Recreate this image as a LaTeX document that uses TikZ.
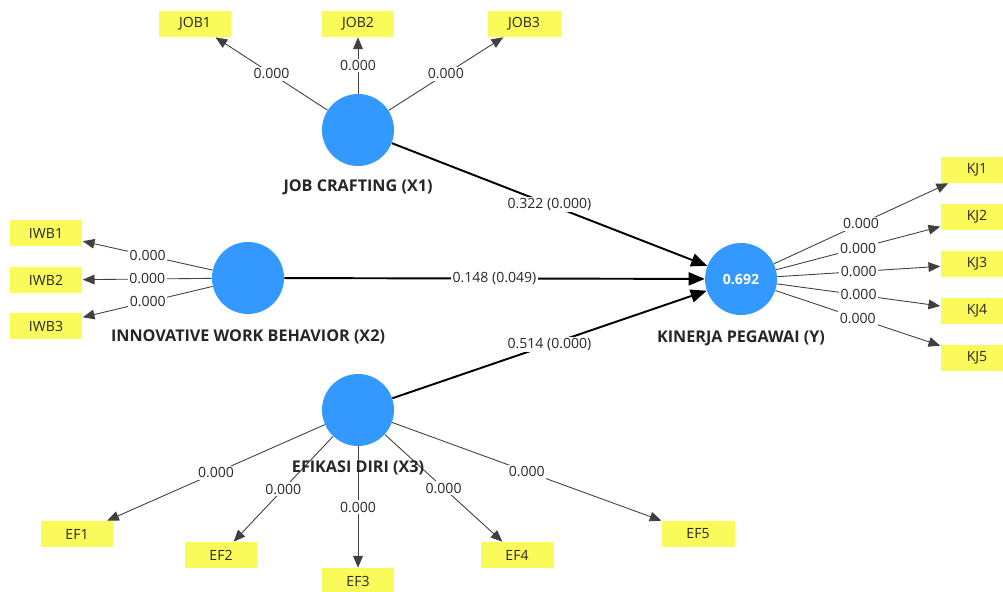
\documentclass[tikz,border=0pt]{standalone}
\usepackage{fontspec}
\setmainfont{Open Sans}
\usetikzlibrary{arrows}
\definecolor{lvblue}{RGB}{51,153,255}
\definecolor{mvyellow}{RGB}{250,250,90}
\definecolor{txtgray}{RGB}{40,40,40}
\tikzstyle{latent} = [circle, fill=lvblue, minimum size=1.44cm, inner sep=0pt, text=white, font=\bfseries\fontsize{8}{10}\selectfont]
\tikzstyle{indicator} = [rectangle, fill=mvyellow, minimum width=1.46cm, minimum height=0.52cm, inner sep=0pt, text=txtgray]
\tikzstyle{lvname} = [font=\bfseries\fontsize{9.2}{11}\selectfont, text=black!85]
\tikzstyle{loading} = [->, >=triangle 45, draw=black!75, line width=0.5pt]
\tikzstyle{structural} = [->, >=triangle 45, draw=black, line width=1.1pt]
\tikzstyle{coef} = [fill=white, inner sep=1pt, text=txtgray]

\begin{document}
\begin{tikzpicture}[x=0.02cm, y=-0.02cm, font=\fontsize{8}{10}\selectfont]
\clip (0,0) rectangle (1003,591);
\fill[white] (0,0) rectangle (1003,591);

% Placement of latent variables
\node (x1) [latent] at (358,130) {};
\node (x2) [latent] at (248,278) {};
\node (x3) [latent] at (358,410) {};
\node (y) [latent] at (741,279) {0.692};

% Placement of indicators
\node (job1) [indicator] at (195,24) {JOB1};
\node (job2) [indicator] at (358,24) {JOB2};
\node (job3) [indicator] at (524,24) {JOB3};

\node (iwb1) [indicator] at (46,233) {IWB1};
\node (iwb2) [indicator] at (46,280) {IWB2};
\node (iwb3) [indicator] at (46,326) {IWB3};

\node (kj1) [indicator] at (977,170) {KJ1};
\node (kj2) [indicator] at (977,217) {KJ2};
\node (kj3) [indicator] at (977,264) {KJ3};
\node (kj4) [indicator] at (977,311) {KJ4};
\node (kj5) [indicator] at (977,358) {KJ5};

\node (ef1) [indicator] at (77,534) {EF1};
\node (ef2) [indicator] at (221,555) {EF2};
\node (ef3) [indicator] at (358,581) {EF3};
\node (ef4) [indicator] at (517,555) {EF4};
\node (ef5) [indicator] at (698,534) {EF5};

% Drawing of outer loadings
\draw [loading] (x1) -- node[coef] {0.000} (job1);
\draw [loading] (x1) -- node[coef] {0.000} (job2);
\draw [loading] (x1) -- node[coef] {0.000} (job3);

\draw [loading] (x2) -- node[coef] {0.000} (iwb1);
\draw [loading] (x2) -- node[coef] {0.000} (iwb2);
\draw [loading] (x2) -- node[coef] {0.000} (iwb3);

\draw [loading] (y) -- node[coef] {0.000} (kj1);
\draw [loading] (y) -- node[coef] {0.000} (kj2);
\draw [loading] (y) -- node[coef] {0.000} (kj3);
\draw [loading] (y) -- node[coef] {0.000} (kj4);
\draw [loading] (y) -- node[coef] {0.000} (kj5);

\draw [loading] (x3) -- node[coef] {0.000} (ef1);
\draw [loading] (x3) -- node[coef] {0.000} (ef2);
\draw [loading] (x3) -- node[coef] {0.000} (ef3);
\draw [loading] (x3) -- node[coef] {0.000} (ef4);
\draw [loading] (x3) -- node[coef] {0.000} (ef5);

% Drawing of inner model
\draw [structural] (x1) -- node[coef] {0.322 (0.000)} (y);
\draw [structural] (x2) -- node[coef] {0.148 (0.049)} (y);
\draw [structural] (x3) -- node[coef] {0.514 (0.000)} (y);

% Names of latent variables
\node (x1name) [lvname] at (358,187) {JOB CRAFTING (X1)};
\node (x2name) [lvname] at (248,337) {INNOVATIVE WORK BEHAVIOR (X2)};
\node (x3name) [lvname] at (358,468) {EFIKASI DIRI (X3)};
\node (yname) [lvname] at (741,338) {KINERJA PEGAWAI (Y)};

\end{tikzpicture}
\end{document}
